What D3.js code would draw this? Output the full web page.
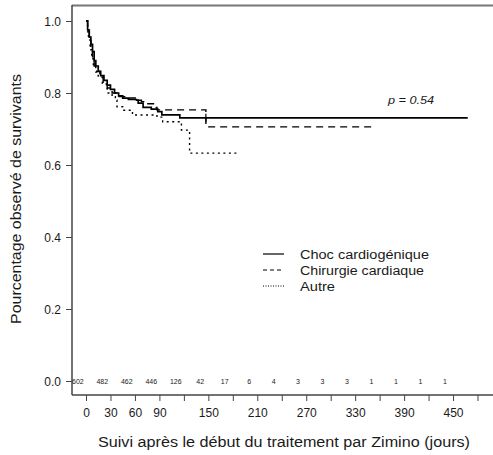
<!DOCTYPE html>
<html>
<head>
<meta charset="utf-8">
<script src="https://cdn.jsdelivr.net/npm/d3@7/dist/d3.min.js"></script>
<style>
  body { margin: 0; background: #fff; }
  svg text { font-family: "Liberation Sans", Arial, sans-serif; fill: #1a1a1a; }
</style>
</head>
<body>
<div id="km-graph"></div>
<script>
// Kaplan-Meier steps: [day, survival]
const chocCardio = [[0, 1.0], [2, 0.975], [4, 0.955], [6, 0.935], [8, 0.915], [10, 0.89], [12, 0.875],
  [15, 0.86], [18, 0.848], [22, 0.835], [26, 0.822], [30, 0.81], [35, 0.8], [40, 0.792], [45, 0.786],
  [52, 0.782], [62, 0.78], [64, 0.772], [70, 0.76], [80, 0.755], [88, 0.748], [93, 0.739], [115, 0.731], [468, 0.731]]
const chirurgie = [[0, 1.0], [2, 0.97], [4, 0.945], [6, 0.925], [8, 0.895], [10, 0.875], [13, 0.86],
  [17, 0.845], [21, 0.83], [26, 0.814], [32, 0.8], [38, 0.79], [50, 0.786], [62, 0.78], [68, 0.776],
  [75, 0.77], [84, 0.76], [87, 0.753], [147, 0.706], [354, 0.706]]
const autre = [[0, 1.0], [2, 0.975], [3, 0.95], [5, 0.92], [7, 0.895], [9, 0.875], [12, 0.858],
  [15, 0.844], [20, 0.825], [26, 0.8], [32, 0.79], [36, 0.78], [38, 0.762], [45, 0.752], [57, 0.739],
  [87, 0.733], [94, 0.72], [117, 0.697], [127, 0.633], [185, 0.633]]
const censorChoc = [[147, 0.731]]

const xTicks = d3.range(0, 481, 30)
const xTickLabels = [0, 30, 60, 90, 150, 210, 270, 330, 390, 450]
const yTicks = [0, 0.2, 0.4, 0.6, 0.8, 1.0]
const riskDays = d3.range(0, 451, 30)
const atRisk = [602, 482, 462, 446, 126, 42, 17, 6, 4, 3, 3, 3, 1, 1, 1, 1]

const groups = ['Choc cardiogénique', 'Chirurgie cardiaque', 'Autre']
const dashes = [null, '7,5', '2,3.5']
const legendDashes = [null, '4,3', '1,1.5']

const width = 493
const height = 455

const svg = d3.select('#km-graph').append('svg')
  .attr('width', width)
  .attr('height', height)

const xScale = d3.scaleLinear().domain([0, 480]).range([86, 477.5])
const yScale = d3.scaleLinear().domain([0, 1]).range([381, 21])

// frame
svg.append('line').attr('x1', 72).attr('x2', width).attr('y1', 5.5).attr('y2', 5.5)
  .attr('stroke', '#777').attr('stroke-width', 2)
svg.append('line').attr('x1', 72).attr('x2', 72).attr('y1', 5).attr('y2', 395)
  .attr('stroke', '#444').attr('stroke-width', 1.5)
svg.append('line').attr('x1', 72).attr('x2', width).attr('y1', 395).attr('y2', 395)
  .attr('stroke', '#444').attr('stroke-width', 1.5)

// y axis
const yAxis = svg.append('g')
  .attr('transform', 'translate(72,0)')
  .call(d3.axisLeft(yScale).tickValues(yTicks).tickFormat(d3.format('.1f')).tickSize(6).tickPadding(5))
yAxis.select('.domain').remove()
yAxis.selectAll('line').attr('stroke', '#444')
yAxis.selectAll('text').style('font-size', '12px').attr('dy', '0.34em')

// x axis
const xAxis = svg.append('g')
  .attr('transform', 'translate(0,395)')
  .call(d3.axisBottom(xScale).tickValues(xTicks)
    .tickFormat(d => xTickLabels.includes(d) ? d : '').tickSize(6).tickPadding(7))
xAxis.select('.domain').remove()
xAxis.selectAll('line').attr('stroke', '#444')
xAxis.selectAll('text').style('font-size', '12px')

// numbers at risk along the zero line
svg.append('g').selectAll('text')
  .data(atRisk)
  .join('text')
  .attr('x', (d, i) => xScale(riskDays[i] - 10))
  .attr('y', yScale(0) + 2.5)
  .attr('text-anchor', 'middle')
  .style('font-size', '7px')
  .text(d => d)

// curves
const line = d3.line()
  .x(d => xScale(d[0]))
  .y(d => yScale(d[1]))
  .curve(d3.curveStepAfter)

;[chocCardio, chirurgie, autre].forEach((data, i) => {
  svg.append('path')
    .datum(data)
    .attr('d', line)
    .attr('fill', 'none')
    .attr('stroke', '#000')
    .attr('stroke-width', i === 0 ? 1.7 : 1.4)
    .attr('stroke-dasharray', dashes[i])
})

svg.selectAll('.censor')
  .data(censorChoc)
  .join('line')
  .attr('class', 'censor')
  .attr('x1', d => xScale(d[0])).attr('x2', d => xScale(d[0]))
  .attr('y1', d => yScale(d[1]) - 4).attr('y2', d => yScale(d[1]) + 4)
  .attr('stroke', '#000').attr('stroke-width', 1.2)

// p value
svg.append('text')
  .attr('x', 388).attr('y', 104)
  .attr('textLength', 46).attr('lengthAdjust', 'spacingAndGlyphs')
  .style('font-size', '10px').style('font-style', 'italic')
  .text('p = 0.54')

// legend
const legendWidths = [129, 124, 35]
const legend = svg.append('g').attr('transform', 'translate(263,254)')
groups.forEach((g, i) => {
  legend.append('line')
    .attr('x1', 0).attr('x2', 21).attr('y1', i * 16).attr('y2', i * 16)
    .attr('stroke', '#000').attr('stroke-width', 1.2)
    .attr('stroke-dasharray', legendDashes[i])
  legend.append('text')
    .attr('x', 37).attr('y', i * 16 + 4.5)
    .attr('textLength', legendWidths[i]).attr('lengthAdjust', 'spacingAndGlyphs')
    .style('font-size', '12px')
    .text(g)
})

// axis titles
svg.append('text')
  .attr('x', 284).attr('y', 447)
  .attr('text-anchor', 'middle')
  .attr('textLength', 372).attr('lengthAdjust', 'spacingAndGlyphs')
  .style('font-size', '14px')
  .text('Suivi après le début du traitement par Zimino (jours)')

svg.append('text')
  .attr('transform', 'translate(21,199) rotate(-90)')
  .attr('text-anchor', 'middle')
  .attr('textLength', 250).attr('lengthAdjust', 'spacingAndGlyphs')
  .style('font-size', '14px')
  .text('Pourcentage observé de survivants')
</script>
</body>
</html>
